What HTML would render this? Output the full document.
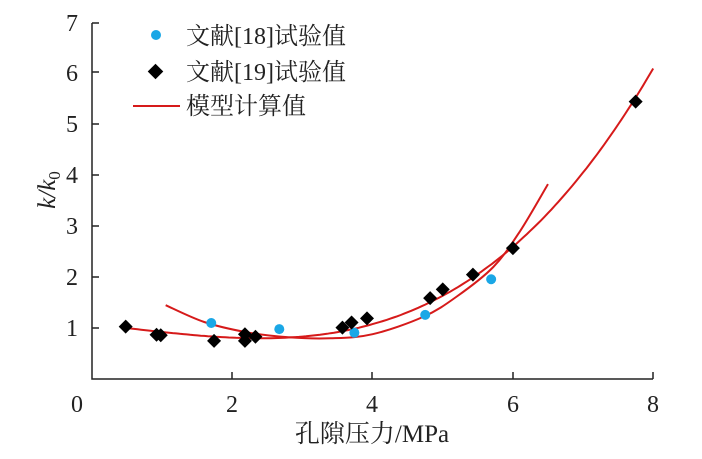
<!DOCTYPE html>
<html><head><meta charset="utf-8"><style>
html,body{margin:0;padding:0;background:#fff;}
svg{display:block;}
text{font-family:"Liberation Serif","Noto Serif CJK SC","Noto Sans CJK SC",serif;fill:#222;}
</style></head><body>
<svg id="s" width="702" height="459" xmlns="http://www.w3.org/2000/svg">
<g stroke="#222" stroke-width="1.5" fill="none">
<path d="M92,23 V379 H653"/>
<path d="M92,23 h7 M92,72 h7 M92,124 h7 M92,175 h7 M92,226 h7 M92,277 h7 M92,328 h7"/>
<path d="M232,379 v-7 M372,379 v-7 M513,379 v-7 M653,379 v-7"/>
</g>
<g font-size="24" text-anchor="end">
<text x="78" y="31">7</text><text x="78" y="81">6</text><text x="78" y="132">5</text>
<text x="78" y="183">4</text><text x="78" y="234">3</text><text x="78" y="285">2</text><text x="78" y="336">1</text>
</g>
<g font-size="24" text-anchor="middle">
<text x="77" y="412">0</text><text x="232" y="412">2</text><text x="372" y="412">4</text><text x="513" y="412">6</text><text x="653" y="412">8</text>
</g>
<text x="372" y="442" font-size="25" text-anchor="middle">孔隙压力/MPa</text>
<text transform="translate(55,190) rotate(-90)" font-size="25" text-anchor="middle" font-style="italic">k/k<tspan font-size="17" dy="5" font-style="normal">0</tspan></text>
<circle cx="156" cy="35" r="5" fill="#1aa7e6"/>
<rect x="150" y="66" width="11" height="11" fill="#000" transform="rotate(45 155.5 71.5)"/>
<line x1="133" y1="106" x2="180" y2="106" stroke="#d61a1a" stroke-width="2"/>
<g font-size="24"><text x="186" y="44">文献[18]试验值</text><text x="186" y="80">文献[19]试验值</text><text x="186" y="114">模型计算值</text></g>
<g id="curves" fill="none" stroke="#d61a1a" stroke-width="2"></g>
<g id="pts"></g>
</svg>
<script>
var X=function(v){return 92+v*70.15},Y=function(v){return 379-v*50.9};
var ns="http://www.w3.org/2000/svg";
function addPath(d){var p=document.createElementNS(ns,"path");p.setAttribute("d",d);document.getElementById("curves").appendChild(p);}
function curve(f,a,b){var d="";for(var x=a;x<=b+1e-9;x+=0.05){d+=(d?"L":"M")+X(x).toFixed(1)+","+Y(f(x)).toFixed(1);}addPath(d);}
curve(function(x){var d=x-2.4;return 0.8+0.0842*d*d+0.01515*d*d*d;},0.5,8);
var P=[[1.05,1.45],[1.6,1.12],[2.2,0.92],[2.8,0.82],[3.4,0.8],[4.0,0.88],[4.72,1.22],[5.2,1.62],[5.72,2.2],[6.1,2.9],[6.5,3.83]].map(function(p){return [X(p[0]),Y(p[1])];});
var d="M"+P[0][0]+","+P[0][1];
for(var i=0;i<P.length-1;i++){var p0=P[Math.max(i-1,0)],p1=P[i],p2=P[i+1],p3=P[Math.min(i+2,P.length-1)];
d+="C"+(p1[0]+(p2[0]-p0[0])/6).toFixed(1)+","+(p1[1]+(p2[1]-p0[1])/6).toFixed(1)+" "+(p2[0]-(p3[0]-p1[0])/6).toFixed(1)+","+(p2[1]-(p3[1]-p1[1])/6).toFixed(1)+" "+p2[0].toFixed(1)+","+p2[1].toFixed(1);}
addPath(d);
var g=document.getElementById("pts");
[[1.70,1.10],[2.67,0.98],[3.74,0.91],[4.75,1.26],[5.69,1.96]].forEach(function(p){var c=document.createElementNS(ns,"circle");c.setAttribute("cx",X(p[0]));c.setAttribute("cy",Y(p[1]));c.setAttribute("r",5);c.setAttribute("fill","#1aa7e6");g.appendChild(c);});
[[0.48,1.03],[0.92,0.87],[0.98,0.86],[1.74,0.75],[2.18,0.88],[2.18,0.75],[2.33,0.83],[3.57,1.01],[3.70,1.11],[3.92,1.19],[4.82,1.59],[5.0,1.76],[5.43,2.05],[6.0,2.57],[7.75,5.45]].forEach(function(p){var x=X(p[0]),y=Y(p[1]);var r=document.createElementNS(ns,"path");r.setAttribute("d","M"+x+","+(y-7)+"L"+(x+7)+","+y+"L"+x+","+(y+7)+"L"+(x-7)+","+y+"Z");r.setAttribute("fill","#000");g.appendChild(r);});
</script>
</body></html>
